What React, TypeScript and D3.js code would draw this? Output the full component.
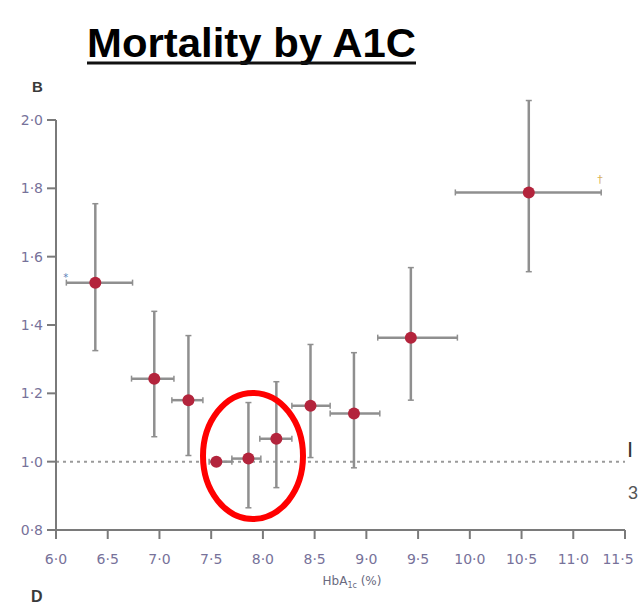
import * as d3 from 'd3';

// HbA1c deciles (x) and hazard ratio (y), with ranges
const hba1c = [6.38, 6.95, 7.28, 7.55, 7.86, 8.13, 8.46, 8.88, 9.43, 10.57];
const hazard = [1.524, 1.243, 1.18, 1.0, 1.009, 1.067, 1.164, 1.141, 1.363, 1.788];
const xLow = [6.1, 6.73, 7.12, 7.48, 7.7, 7.97, 8.28, 8.65, 9.11, 9.86];
const xHigh = [6.74, 7.14, 7.42, 7.7, 7.98, 8.28, 8.65, 9.13, 9.88, 11.27];
const yLow = [1.325, 1.073, 1.018, null, 0.865, 0.924, 1.012, 0.982, 1.18, 1.556];
const yHigh = [1.755, 1.44, 1.369, null, 1.173, 1.234, 1.343, 1.319, 1.568, 2.057];

const xTicks = [6, 6.5, 7, 7.5, 8, 8.5, 9, 9.5, 10, 10.5, 11, 11.5];
const yTicks = [0.8, 1.0, 1.2, 1.4, 1.6, 1.8, 2.0];

const fmt = (v: number) => v.toFixed(1).replace('.', '·');

export default function App() {
  const x = d3.scaleLinear().domain([6, 11.5]).range([56, 625]);
  const y = d3.scaleLinear().domain([0.8, 2.0]).range([530, 120]);

  const axisCol = '#7a7a7a';
  const barCol = '#8f8f8f';
  const labelCol = '#77729a';
  const cap = 3;
  const tickFont = 'DejaVu Sans, sans-serif';

  return (
    <svg width={638} height={606} style={{ position: 'absolute', left: 0, top: 0, background: '#fff' }}>
      {/* title */}
      <text x={87} y={57} textLength={329} lengthAdjust="spacingAndGlyphs" fontFamily="Liberation Sans, Arial, sans-serif" fontWeight="bold" fontSize={41} fill="#000">
        Mortality by A1C
      </text>
      <line x1={87} x2={416} y1={63} y2={63} stroke="#111" strokeWidth={3} />

      <text x={32} y={92} fontFamily="Liberation Sans, Arial, sans-serif" fontWeight="bold" fontSize={15} fill="#3a3a3a">B</text>
      <text x={31} y={602} fontFamily="Liberation Sans, Arial, sans-serif" fontWeight="bold" fontSize={16} fill="#3a3a3a">D</text>

      {/* reference line at HR 1.0 */}
      <line x1={x(6)} x2={x(11.5)} y1={y(1)} y2={y(1)} stroke="#9a9a9a" strokeWidth={2} strokeDasharray="3,4" />

      {/* y axis */}
      <line x1={x(6)} x2={x(6)} y1={y(2.0)} y2={y(0.8)} stroke={axisCol} strokeWidth={2} />
      {yTicks.map((t) => (
        <g key={'y' + t}>
          <line x1={x(6) - 9} x2={x(6)} y1={y(t)} y2={y(t)} stroke={axisCol} strokeWidth={2} />
          <text x={x(6) - 13} y={y(t) + 5} textAnchor="end" fontFamily={tickFont} fontSize={14} fill={labelCol}>
            {fmt(t)}
          </text>
        </g>
      ))}

      {/* x axis */}
      <line x1={x(6)} x2={x(11.5)} y1={y(0.8)} y2={y(0.8)} stroke={axisCol} strokeWidth={2} />
      {xTicks.map((t) => (
        <g key={'x' + t}>
          <line x1={x(t)} x2={x(t)} y1={y(0.8)} y2={y(0.8) + 9} stroke={axisCol} strokeWidth={2} />
          <text x={Math.min(x(t), 618)} y={y(0.8) + 34} textAnchor="middle" fontFamily={tickFont} fontSize={14} fill={labelCol}>
            {fmt(t)}
          </text>
        </g>
      ))}
      <text x={352} y={585} textAnchor="middle" fontFamily={tickFont} fontSize={12} fill="#6a6a80">
        HbA<tspan fontSize={8} dy={3}>1c</tspan><tspan dy={-3}> (%)</tspan>
      </text>

      {/* error bars */}
      {hba1c.map((v, i) => (
        <g key={'e' + i} stroke={barCol} strokeWidth={2.5}>
          <line x1={x(xLow[i])} x2={x(xHigh[i])} y1={y(hazard[i])} y2={y(hazard[i])} />
          <line x1={x(xLow[i])} x2={x(xLow[i])} y1={y(hazard[i]) - cap} y2={y(hazard[i]) + cap} strokeWidth={1.5} />
          <line x1={x(xHigh[i])} x2={x(xHigh[i])} y1={y(hazard[i]) - cap} y2={y(hazard[i]) + cap} strokeWidth={1.5} />
          {yLow[i] != null && yHigh[i] != null && (
            <>
              <line x1={x(v)} x2={x(v)} y1={y(yLow[i] as number)} y2={y(yHigh[i] as number)} />
              <line x1={x(v) - cap} x2={x(v) + cap} y1={y(yLow[i] as number)} y2={y(yLow[i] as number)} strokeWidth={1.5} />
              <line x1={x(v) - cap} x2={x(v) + cap} y1={y(yHigh[i] as number)} y2={y(yHigh[i] as number)} strokeWidth={1.5} />
            </>
          )}
        </g>
      ))}

      {/* points */}
      {hba1c.map((v, i) => (
        <circle key={'p' + i} cx={x(v)} cy={y(hazard[i])} r={6} fill="#b3243c" />
      ))}

      {/* footnote marks */}
      <text x={x(xLow[0]) - 3} y={y(hazard[0]) - 2} fontFamily="DejaVu Sans, sans-serif" fontSize={10} fill="#5c7fb8">*</text>
      <text x={x(xHigh[9]) - 4} y={y(hazard[9]) - 9} fontFamily="DejaVu Sans, sans-serif" fontSize={11} fill="#d9b25a">†</text>

      {/* highlight ellipse */}
      <ellipse cx={253} cy={456} rx={50} ry={63} fill="none" stroke="#f00" strokeWidth={6} />

      {/* clipped slide text at the right edge */}
      <text x={627} y={457} fontFamily="Liberation Sans, Arial, sans-serif" fontSize={22} fill="#333">I</text>
      <text x={628} y={499} fontFamily="Liberation Sans, Arial, sans-serif" fontSize={18} fill="#555">3</text>
    </svg>
  );
}
